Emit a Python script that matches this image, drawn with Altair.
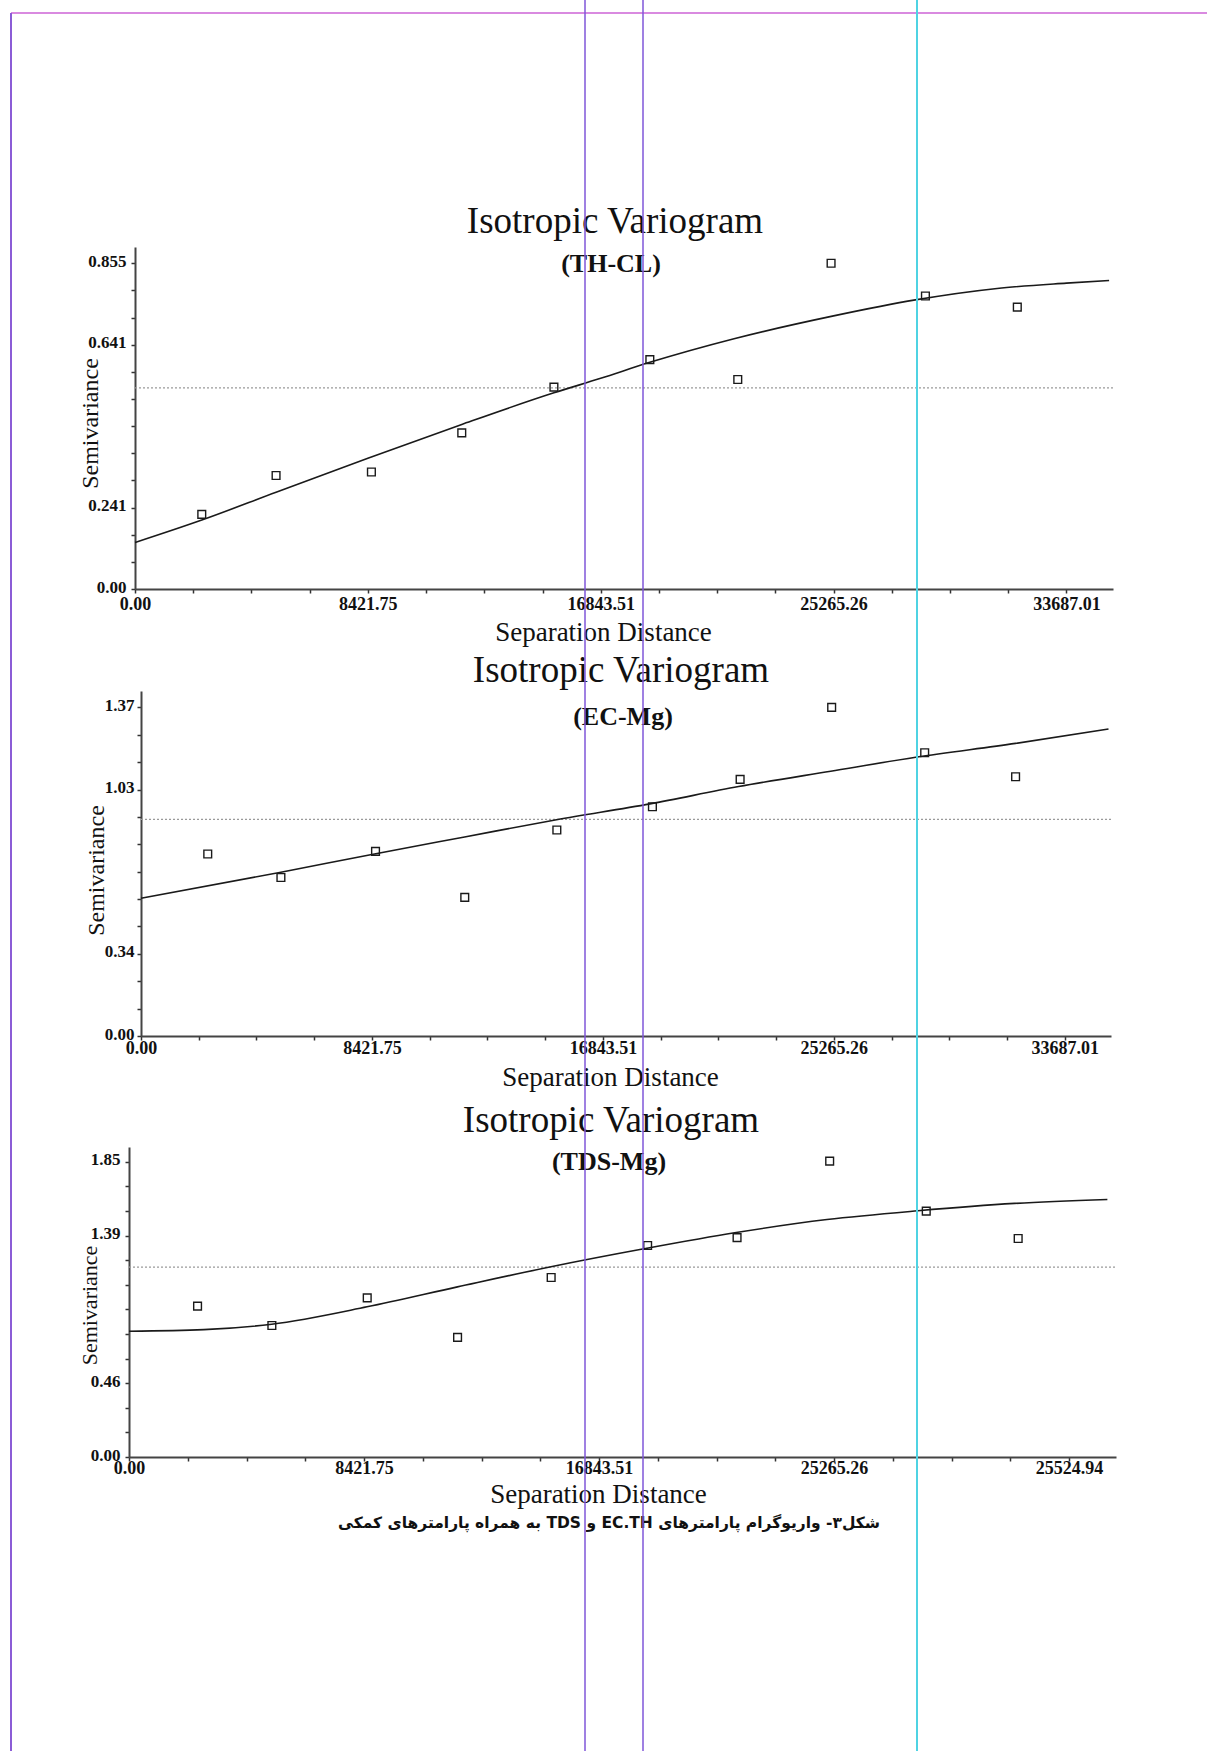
import altair as alt
import pandas as pd

W, H = 1207, 1751
SERIF = "Liberation Serif"
XMAX = 35371.0

# ---------------- data ----------------
X_LABEL_POS = [0.0, 8421.75, 16843.51, 25265.26, 33687.01]
X_LABELS_A = ["0.00", "8421.75", "16843.51", "25265.26", "33687.01"]
X_LABELS_C = ["0.00", "8421.75", "16843.51", "25265.26", "25524.94"]

# Panel 1 (TH-CL)
P1_LAG = [2415, 5102, 8550, 11818, 15151, 18620, 21800, 25175, 28587, 31910]
P1_GAMMA = [0.196, 0.298, 0.307, 0.410, 0.530, 0.602, 0.550, 0.855, 0.769, 0.740]
P1_MODEL_LAG = [0, 2415, 5102, 8422, 11818, 15151, 16843, 18620, 21665, 25265, 28222, 31180, 33687, 35230]
P1_MODEL_GAMMA = [0.122, 0.181, 0.254, 0.343, 0.432, 0.515, 0.553, 0.595, 0.657, 0.717, 0.759, 0.789, 0.803, 0.810]
P1_SILL = 0.528
P1_YMAX = 0.89775
P1_YLAB_POS = [0.0, 0.21375, 0.64125, 0.855]
P1_YLAB = ["0.00", "0.241", "0.641", "0.855"]

# Panel 2 (EC-Mg)
P2_LAG = [2434, 5102, 8552, 11806, 15164, 18649, 21847, 25185, 28577, 31892]
P2_GAMMA = [0.759, 0.661, 0.770, 0.578, 0.859, 0.956, 1.070, 1.370, 1.181, 1.081]
P2_MODEL_LAG = [0, 5102, 8417, 11800, 15150, 18560, 21790, 25150, 28250, 31890, 35280]
P2_MODEL_GAMMA = [0.574, 0.683, 0.757, 0.830, 0.902, 0.968, 1.040, 1.104, 1.162, 1.220, 1.280]
P2_SILL = 0.903
P2_YMAX = 1.4385
P2_YLAB_POS = [0.0, 0.3425, 1.0275, 1.37]
P2_YLAB = ["0.00", "0.34", "1.03", "1.37"]

# Panel 3 (TDS-Mg)
P3_LAG = [2457, 5120, 8537, 11775, 15129, 18586, 21791, 25110, 28571, 31865]
P3_GAMMA = [0.945, 0.824, 0.997, 0.750, 1.125, 1.325, 1.375, 1.854, 1.541, 1.369]
P3_MODEL_LAG = [0, 2684, 5114, 8529, 11770, 15123, 18502, 21703, 25014, 28275, 31737, 35062]
P3_MODEL_GAMMA = [0.788, 0.798, 0.832, 0.941, 1.066, 1.192, 1.306, 1.405, 1.488, 1.543, 1.589, 1.614]
P3_SILL = 1.19
P3_YMAX = 1.9425
P3_YLAB_POS = [0.0, 0.4625, 1.3875, 1.85]
P3_YLAB = ["0.00", "0.46", "1.39", "1.85"]

TITLE = "Isotropic Variogram"
SUBTITLES = ["(TH-CL)", "(EC-Mg)", "(TDS-Mg)"]
CAPTION = "شکل۳- واریوگرام پارامترهای EC.TH و TDS به همراه پارامترهای کمکی"


def ticks_between(pos, subdiv):
    out = []
    for i in range(len(pos) - 1):
        a, b = pos[i], pos[i + 1]
        n = subdiv[i]
        out.append(a)
        for k in range(1, n):
            out.append(a + (b - a) * k / n)
    out.append(pos[-1])
    return out


def label_expr(pos, labels, tol):
    expr = "''"
    for p, l in reversed(list(zip(pos, labels))):
        expr = f"abs(datum.value - {p!r}) < {tol} ? '{l}' : ({expr})"
    return expr


def panel(lag, gamma, mlag, mgamma, sill, ymax, ylpos, ylab, xlab,
          xr, yr, ytitle_xy, xtitle_xy, ytitle_size, ylabpad, xlabpad):
    xs = alt.Scale(domain=[0, XMAX], range=xr, nice=False, zero=False)
    ys = alt.Scale(domain=[0, ymax], range=yr, nice=False, zero=False)
    common = dict(grid=False, labelFont=SERIF, labelFontWeight="bold",
                  labelColor="#111111", labelOverlap=False, labelFlush=False,
                  tickSize=4, tickWidth=1.5, tickColor="#333333",
                  domainColor="#444444", domainWidth=2,
                  titleFont=SERIF, titleFontWeight="normal", titleColor="#111111",
                  titleAlign="center")
    xaxis = alt.Axis(orient="bottom", offset=-(H - yr[0]),
                     values=ticks_between(X_LABEL_POS, [4, 4, 4, 4]),
                     labelExpr=label_expr(X_LABEL_POS, xlab, 1e-3),
                     labelPadding=xlabpad, labelFontSize=18,
                     title="Separation Distance", titleFontSize=27,
                     titleX=xtitle_xy[0], titleY=xtitle_xy[1] - yr[0],
                     titleBaseline="alphabetic", **common)
    yaxis = alt.Axis(orient="left", offset=-xr[0],
                     values=ticks_between(ylpos, [3, 6, 3]),
                     labelExpr=label_expr(ylpos, ylab, 1e-6),
                     labelPadding=ylabpad, labelFontSize=17, labelOffset=-2,
                     title="Semivariance", titleFontSize=ytitle_size, titleAngle=270,
                     titleX=ytitle_xy[0] - xr[0], titleY=ytitle_xy[1],
                     titleBaseline="middle", **common)
    X = lambda f: alt.X(f, scale=xs, axis=xaxis)
    Y = lambda f: alt.Y(f, scale=ys, axis=yaxis)

    sdf = pd.DataFrame({"lag": [0.0], "lag2": [XMAX], "gamma": [sill]})
    cdf = pd.DataFrame({"lag": mlag, "gamma": mgamma})
    pdf = pd.DataFrame({"lag": lag, "gamma": gamma})
    sill_l = alt.Chart(sdf).mark_rule(color="#9a9a9a", strokeDash=[2, 2], strokeWidth=1.2).encode(
        x=X("lag:Q"), x2=alt.X2("lag2"), y=Y("gamma:Q"))
    curve = alt.Chart(cdf).mark_line(color="#1a1a1a", strokeWidth=1.6, interpolate="monotone").encode(
        x=X("lag:Q"), y=Y("gamma:Q"))
    pts = alt.Chart(pdf).mark_point(shape="square", filled=False, size=60, color="#1a1a1a",
                                    strokeWidth=1.4, opacity=1).encode(x=X("lag:Q"), y=Y("gamma:Q"))
    return alt.layer(sill_l, curve, pts)


p1 = panel(P1_LAG, P1_GAMMA, P1_MODEL_LAG, P1_MODEL_GAMMA, P1_SILL, P1_YMAX, P1_YLAB_POS, P1_YLAB,
           X_LABELS_A, [135, 1113], [589, 247], (90, 423), (603, 640), 24, 5, 2)
p2 = panel(P2_LAG, P2_GAMMA, P2_MODEL_LAG, P2_MODEL_GAMMA, P2_SILL, P2_YMAX, P2_YLAB_POS, P2_YLAB,
           X_LABELS_A, [141, 1111], [1036, 691], (96, 870), (610, 1085), 24, 3, -1)
p3 = panel(P3_LAG, P3_GAMMA, P3_MODEL_LAG, P3_MODEL_GAMMA, P3_SILL, P3_YMAX, P3_YLAB_POS, P3_YLAB,
           X_LABELS_C, [129, 1116], [1457, 1147], (89, 1305), (598, 1502), 22, 5, -2)

dummy = pd.DataFrame({"k": [0]})


def text(t, x, y, size, weight="normal", font=SERIF, baseline="alphabetic"):
    return alt.Chart(dummy).mark_text(text=t, font=font, fontSize=size, fontWeight=weight,
                                      color="#111111", align="center", baseline=baseline).encode(
        x=alt.value(x), y=alt.value(y))


texts = [
    text(TITLE, 615, 233, 37),
    text(SUBTITLES[0], 611, 272, 26, "bold"),
    text(TITLE, 621, 682, 37),
    text(SUBTITLES[1], 623, 725, 26, "bold"),
    text(TITLE, 611, 1132, 37),
    text(SUBTITLES[2], 609, 1170, 26, "bold"),
    text("\u202B" + CAPTION + "\u202C", 609, 1523, 15.5, "bold", "DejaVu Sans", "middle"),
]


def vrule(x, y0, y1, color, w):
    return alt.Chart(dummy).mark_rule(color=color, strokeWidth=w).encode(
        x=alt.value(x), y=alt.value(y0), y2=alt.value(y1))


rules = [
    alt.Chart(dummy).mark_rule(color="#d98ae0", strokeWidth=2).encode(
        x=alt.value(11), x2=alt.value(W), y=alt.value(13)),
    vrule(11, 13, H, "#8b5cd6", 2),
    vrule(585, 0, H, "#7f56d9", 1.5),
    vrule(643, 0, H, "#7f56d9", 1.5),
    vrule(917, 0, H, "#4fd3e3", 2),
]

chart = alt.layer(p1, p2, p3, *texts, *rules).resolve_scale(
    x="independent", y="independent").resolve_axis(
    x="independent", y="independent").properties(
    width=W, height=H, padding=0, background="white",
    autosize=alt.AutoSizeParams(type="none")).configure_view(strokeWidth=0)

chart.save("out.html", embed_options={"renderer": "svg", "actions": False})
